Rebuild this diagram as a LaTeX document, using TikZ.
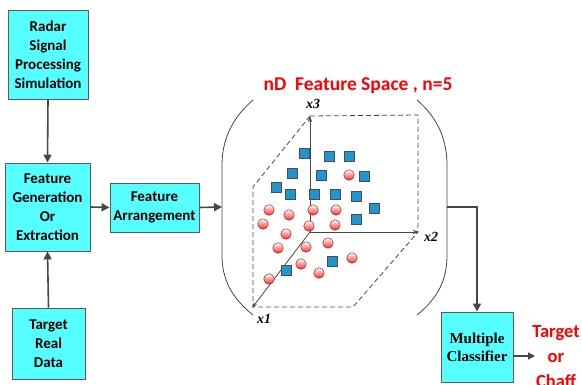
\documentclass[tikz,border=0pt]{standalone}
\usepackage{fontspec}
\setmainfont{Carlito}
\newfontfamily\serifb{Liberation Serif}
\usetikzlibrary{arrows.meta,shadows}
\definecolor{boxcyan}{RGB}{85,255,255}
\definecolor{boxedge}{RGB}{90,90,90}
\definecolor{conncol}{RGB}{70,70,70}
\definecolor{sqblue}{RGB}{30,150,210}
\definecolor{redtxt}{RGB}{255,0,0}
\begin{document}
\begin{tikzpicture}[x=1pt,y=-1pt,
  box/.style={draw=boxedge, line width=0.9pt, fill=boxcyan, align=center, inner sep=1pt,
    font=\fontsize{15}{19}\selectfont\bfseries, drop shadow={shadow xshift=1.2pt, shadow yshift=-1.2pt, opacity=0.35}},
  conn/.style={draw=conncol, line width=1.6pt, -{Triangle[length=8pt,width=8pt]}},
  axis/.style={draw=conncol, line width=0.8pt, -{Stealth[length=6pt,width=4pt]}},
  dashline/.style={draw=conncol, line width=0.8pt, dash pattern=on 5pt off 3pt},
  brk/.style={draw=conncol, line width=0.8pt},
  sq/.style={draw=black!70, fill=sqblue, line width=0.5pt, minimum size=10pt, inner sep=0pt, rectangle},
  dot/.style={draw=red!60!black, line width=0.4pt, circle, minimum size=10.5pt, inner sep=0pt, top color=white, bottom color=red!85},
  axlab/.style={font=\serifb\fontsize{14}{14}\selectfont\bfseries\itshape},
  redlab/.style={text=redtxt, font=\fontsize{19.5}{24}\selectfont\bfseries, align=center}
]
\useasboundingbox (0,0) rectangle (582,385);

% boxes
\node[box, minimum width=80pt, minimum height=89pt] (radar) at (48,54.5) {Radar\\Signal\\Processing\\Simulation};
\node[box, minimum width=85pt, minimum height=88pt] (gen) at (47.5,207) {Feature\\Generation\\Or\\Extraction};
\node[box, minimum width=89pt, minimum height=49pt] (arr) at (154.5,207.5) {Feature\\Arrangement};
\node[box, minimum width=73pt, minimum height=71pt] (tgt) at (48.5,343.5) {Target\\Real\\Data};
\node[box, minimum width=72pt, minimum height=70pt, font=\serifb\fontsize{15}{18}\selectfont\bfseries] (mc) at (477,347) {Multiple\\Classifier};

% brackets
\coordinate (lb) at (222,207);
\coordinate (rb) at (447,207);
\draw[brk] (253,100) .. controls (232,118) and (222,140) .. (222,165) -- (222,255) .. controls (222,280) and (232,298) .. (253,315);
\draw[brk] (417,100) .. controls (438,118) and (447,140) .. (447,165) -- (447,255) .. controls (447,280) and (438,298) .. (417,315);

\node[redlab] (title) at (358,86) {nD\ \ Feature Space , n=5};

% connectors
\draw[conn] (radar.south) -- (gen.north);
\draw[conn] (tgt.north) -- (gen.south);
\draw[conn] (gen.east) -- (arr.west);
\draw[conn] (arr.east) -- (lb);
\draw[conn] (rb) -| (mc.north);
\coordinate (outend) at (535,356);
\draw[draw=conncol, line width=1.2pt, -{Triangle[length=7pt,width=7pt]}] (mc.east |- outend) -- (outend);
\node[redlab, font=\fontsize{18.5}{25}\selectfont\bfseries] (res) at (556,357) {Target\\or\\Chaff};

% axes and dashed box
\coordinate (O) at (310,232);
\coordinate (X3) at (310,116);
\coordinate (X2) at (419,232);
\coordinate (X1) at (252,308);
\draw[dashline] (310,116) -- (418,115) -- (418,232);
\draw[dashline] (310,116) -- (253,187) -- (253,307) -- (353,307) -- (418,232);
\draw[axis] (O) -- (X3);
\draw[axis] (O) -- (X2);
\draw[axis] (O) -- (X1);
\node[axlab] (l3) at (313,104) {x3};
\node[axlab] (l2) at (431,237) {x2};
\node[axlab] (l1) at (264,319) {x1};

% squares
\foreach \p [count=\i] in {(304,153),(329,156),(349,156),(292,173),(321,175),(364,176),(276,187),(290,194),(314,194),(335,194),(356,196),(374,208),(356,219),(286,270),(332,261)}
  \node[sq, drop shadow={shadow xshift=0.8pt, shadow yshift=-0.8pt, opacity=0.3}] (s\i) at \p {};
% circles
\foreach \p [count=\i] in {(349,175),(269,210),(289,215),(263,224),(313,210),(336,210),(309,226),(335,225),(286,234),(278,248),(306,247),(328,243),(352,258),(301,264),(319,273),(269,279)}
  \node[dot] (c\i) at \p {};
\end{tikzpicture}
\end{document}
